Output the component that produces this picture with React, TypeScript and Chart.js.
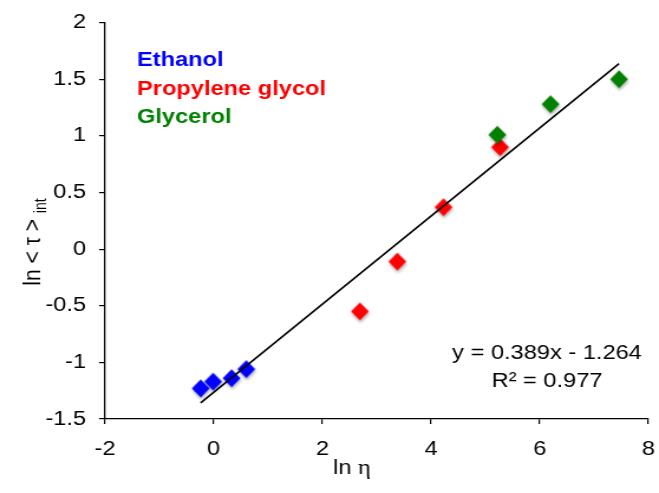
import React, { useEffect, useRef } from 'react';
import { Chart, registerables } from 'chart.js';

Chart.register(...registerables);

// ---- data ----
const ethanolX = [-0.24, -0.01, 0.33, 0.6];
const ethanolY = [-1.23, -1.17, -1.14, -1.06];
const propyleneX = [2.69, 3.38, 4.23, 5.27];
const propyleneY = [-0.55, -0.11, 0.37, 0.9];
const glycerolX = [5.22, 6.2, 7.46];
const glycerolY = [1.01, 1.28, 1.5];

const trendSlope = 0.389;
const trendIntercept = -1.264;

const xTickValues = [-2, 0, 2, 4, 6, 8];
const yTickValues = [-1.5, -1, -0.5, 0, 0.5, 1, 1.5, 2];

const seriesNames = ['Ethanol', 'Propylene glycol', 'Glycerol'];
const seriesColors = ['#0000ff', '#ff0000', '#008000'];
const equationLines = ['y = 0.389x - 1.264', 'R² = 0.977'];
const xTitle = ['ln ', 'η'];
const yTitleMain = 'ln < τ >';
const yTitleSub = 'int';

// ---- canvas geometry (reference is horizontally stretched) ----
const CSS_W = 659;
const CSS_H = 493;
const INT_W = 558;
const SX = CSS_W / INT_W;
const FONT = '"Liberation Sans", Arial, sans-serif';

function makeDiamond(color: string): HTMLCanvasElement {
  const c = document.createElement('canvas');
  c.width = 24;
  c.height = 32;
  const ctx = c.getContext('2d')!;
  const cx = 12;
  const cy = 16;
  const hw = 7.6;
  const hh = 9;
  ctx.shadowColor = 'rgba(0,0,0,0.28)';
  ctx.shadowOffsetY = 2.5;
  ctx.shadowOffsetX = 0.5;
  ctx.shadowBlur = 3;
  ctx.fillStyle = color;
  ctx.beginPath();
  ctx.moveTo(cx, cy - hh);
  ctx.lineTo(cx + hw, cy);
  ctx.lineTo(cx, cy + hh);
  ctx.lineTo(cx - hw, cy);
  ctx.closePath();
  ctx.fill();
  return c;
}

const toPoints = (xs: number[], ys: number[]) => xs.map((x, i) => ({ x, y: ys[i] }));

const textPlugin = {
  id: 'customTexts',
  afterDraw(chart: any) {
    const ctx: CanvasRenderingContext2D = chart.ctx;
    ctx.save();
    ctx.fillStyle = '#000';
    ctx.textBaseline = 'alphabetic';

    // legend-like labels
    ctx.font = `bold 20px ${FONT}`;
    ctx.textAlign = 'left';
    const legendY = [66, 94.5, 123];
    seriesNames.forEach((name, i) => {
      ctx.fillStyle = seriesColors[i];
      ctx.fillText(name, 137 / SX, legendY[i]);
    });

    // equation
    ctx.fillStyle = '#000';
    ctx.font = `20px ${FONT}`;
    ctx.textAlign = 'center';
    ctx.fillText(equationLines[0], 547 / SX, 359);
    ctx.fillText(equationLines[1], 547 / SX, 387);

    // x title
    ctx.textAlign = 'left';
    ctx.font = `20px ${FONT}`;
    const w1 = ctx.measureText(xTitle[0]).width;
    ctx.font = `21px "Liberation Serif", serif`;
    const w2 = ctx.measureText(xTitle[1]).width;
    const startX = 352 / SX - (w1 + w2) / 2;
    ctx.font = `20px ${FONT}`;
    ctx.fillText(xTitle[0], startX, 474);
    ctx.font = `21px "Liberation Serif", serif`;
    ctx.fillText(xTitle[1], startX + w1, 474);

    // y title (rotated)
    ctx.font = `21px ${FONT}`;
    const wm = ctx.measureText(yTitleMain + ' ').width;
    ctx.font = `14px ${FONT}`;
    const ws = ctx.measureText(yTitleSub).width;
    const total = wm + ws;
    ctx.translate(40 / SX, 242 + total / 2);
    ctx.rotate(-Math.PI / 2);
    ctx.font = `21px ${FONT}`;
    ctx.fillText(yTitleMain, 0, 0);
    ctx.font = `14px ${FONT}`;
    ctx.fillText(yTitleSub, wm, 5);
    ctx.restore();
  },
};

export default function App() {
  const ref = useRef<HTMLCanvasElement>(null);

  useEffect(() => {
    if (!ref.current) return;
    const allX = [...ethanolX, ...propyleneX, ...glycerolX];
    const x0 = Math.min(...allX);
    const x1 = Math.max(...allX);
    const trend = [x0, x1].map((x) => ({ x, y: trendSlope * x + trendIntercept }));

    const chart = new Chart(ref.current, {
      type: 'scatter',
      data: {
        datasets: [
          {
            label: 'Trend',
            data: trend,
            showLine: true,
            borderColor: '#000',
            borderWidth: 1.6,
            pointRadius: 0,
            fill: false,
          } as any,
          {
            label: seriesNames[2],
            data: toPoints(glycerolX, glycerolY),
            pointStyle: makeDiamond(seriesColors[2]),
            pointRadius: 8,
            backgroundColor: seriesColors[2],
          },
          {
            label: seriesNames[1],
            data: toPoints(propyleneX, propyleneY),
            pointStyle: makeDiamond(seriesColors[1]),
            pointRadius: 8,
            backgroundColor: seriesColors[1],
          },
          {
            label: seriesNames[0],
            data: toPoints(ethanolX, ethanolY),
            pointStyle: makeDiamond(seriesColors[0]),
            pointRadius: 8,
            backgroundColor: seriesColors[0],
          },
        ],
      },
      options: {
        responsive: false,
        animation: false,
        devicePixelRatio: 1,
        layout: {
          padding: { top: 22.6, right: (CSS_W - 650) / SX, left: 0, bottom: 0 },
        },
        plugins: {
          legend: { display: false },
          tooltip: { enabled: false },
        },
        scales: {
          x: {
            type: 'linear',
            min: xTickValues[0],
            max: xTickValues[xTickValues.length - 1],
            afterBuildTicks: (scale: any) => {
              scale.ticks = xTickValues.map((v) => ({ value: v }));
            },
            afterFit: (scale: any) => {
              scale.height = CSS_H - 419;
              scale.paddingLeft = 0;
              scale.paddingRight = 0;
            },
            ticks: {
              color: '#000',
              font: { family: FONT, size: 20 },
              padding: 13,
              maxRotation: 0,
              callback: (v: any) => String(Math.round(Number(v) * 10) / 10),
            },
            grid: {
              display: true,
              drawOnChartArea: false,
              drawTicks: true,
              tickLength: 5,
              color: '#000',
              lineWidth: 1.2,
            },
            border: { display: true, color: '#000', width: 1.3 },
          },
          y: {
            type: 'linear',
            min: yTickValues[0],
            max: yTickValues[yTickValues.length - 1],
            afterBuildTicks: (scale: any) => {
              scale.ticks = yTickValues.map((v) => ({ value: v }));
            },
            afterFit: (scale: any) => {
              scale.width = 105 / SX;
              scale.paddingTop = 0;
              scale.paddingBottom = 0;
            },
            ticks: {
              color: '#000',
              font: { family: FONT, size: 20 },
              padding: 11,
              callback: (v: any) => String(Math.round(Number(v) * 10) / 10),
            },
            grid: {
              display: true,
              drawOnChartArea: false,
              drawTicks: true,
              tickLength: 5,
              color: '#000',
              lineWidth: 1.2,
            },
            border: { display: true, color: '#000', width: 1.3 },
          },
        },
      },
      plugins: [textPlugin],
    });
    return () => chart.destroy();
  }, []);

  return (
    <div
      style={{
        position: 'fixed',
        left: 0,
        top: 0,
        width: CSS_W,
        height: CSS_H,
        background: '#fff',
      }}
    >
      <canvas
        ref={ref}
        width={INT_W}
        height={CSS_H}
        style={{ width: CSS_W + 'px', height: CSS_H + 'px', display: 'block' }}
      />
    </div>
  );
}
